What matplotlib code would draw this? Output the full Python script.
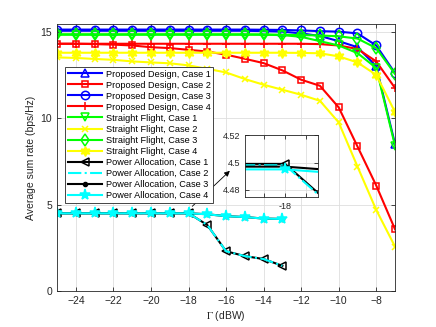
#!/usr/bin/env python3
# coding: utf-8

import matplotlib
matplotlib.use('Agg')
import matplotlib.pyplot as plt

# x axis, Gamma in dBW
gamma = list(range(-25, -6))
gamma_pa = list(range(-25, -12))

# proposed design
pd_case1 = [15.05, 15.05, 15.05, 15.05, 15.05, 15.05, 15.05, 15.05, 15.05, 15.05,
            15.05, 15.03, 15.0, 14.9, 14.75, 14.45, 14.1, 13.0, 8.5]
pd_case2 = [14.3, 14.3, 14.28, 14.25, 14.2, 14.1, 14.05, 13.95, 13.85, 13.67,
            13.43, 13.18, 12.76, 12.22, 11.87, 10.62, 8.36, 6.1, 3.57]
pd_case3 = [15.12, 15.12, 15.12, 15.12, 15.12, 15.12, 15.12, 15.12, 15.12, 15.12,
            15.12, 15.11, 15.1, 15.07, 15.03, 15.0, 14.9, 14.2, 12.6]
pd_case4 = [14.3, 14.3, 14.3, 14.3, 14.3, 14.3, 14.3, 14.3, 14.3, 14.3,
            14.3, 14.3, 14.3, 14.3, 14.28, 14.2, 14.0, 13.28, 11.74]

# straight flight
sf_case1 = [14.82, 14.82, 14.82, 14.82, 14.82, 14.82, 14.82, 14.82, 14.82, 14.82,
            14.82, 14.82, 14.8, 14.7, 14.45, 14.2, 13.76, 12.9, 8.4]
sf_case2 = [13.51, 13.48, 13.42, 13.37, 13.28, 13.22, 13.17, 13.05, 12.85, 12.64,
            12.26, 11.93, 11.64, 11.35, 11.0, 9.75, 7.2, 4.69, 2.57]
sf_case3 = [14.85, 14.85, 14.85, 14.85, 14.85, 14.85, 14.85, 14.85, 14.85, 14.85,
            14.85, 14.84, 14.82, 14.8, 14.78, 14.73, 14.6, 14.05, 12.55]
sf_case4 = [13.78, 13.78, 13.78, 13.78, 13.78, 13.78, 13.78, 13.78, 13.78, 13.78,
            13.78, 13.78, 13.78, 13.77, 13.75, 13.57, 13.22, 12.5, 10.35]

# power allocation
pa_case1 = [4.499, 4.499, 4.499, 4.499, 4.499, 4.499, 4.499, 4.499, 3.82, 2.3, 2.02, 1.85, 1.46]
pa_case2 = [4.498, 4.498, 4.498, 4.498, 4.498, 4.498, 4.498, 4.498, 3.82, 2.3, 2.02, 1.85, 1.46]
pa_case3 = [4.497, 4.497, 4.497, 4.497, 4.497, 4.497, 4.497, 4.497, 4.44, 4.33, 4.28, 4.19, 4.17]
pa_case4 = [4.495, 4.495, 4.495, 4.495, 4.495, 4.495, 4.495, 4.495, 4.438, 4.328, 4.278, 4.188, 4.168]

labels = ['Proposed Design, Case 1', 'Proposed Design, Case 2',
          'Proposed Design, Case 3', 'Proposed Design, Case 4',
          'Straight Flight, Case 1', 'Straight Flight, Case 2',
          'Straight Flight, Case 3', 'Straight Flight, Case 4',
          'Power Allocation, Case 1', 'Power Allocation, Case 2',
          'Power Allocation, Case 3', 'Power Allocation, Case 4']

plt.rcParams['font.family'] = ['Liberation Sans', 'DejaVu Sans']
plt.rcParams['mathtext.fontset'] = 'stix'

AXC = '0.15'
BLUE, RED, GREEN, YELLOW, CYAN, BLACK = '#0000ff', '#ff0000', '#00ff00', '#ffff00', '#00ffff', '#000000'


def draw_curves(ax):
    lw = 1.5
    ms = 6
    mew = 1.1
    ax.plot(gamma, pd_case1, '-', marker='^', color=BLUE, lw=lw, ms=ms, mew=mew, mfc='none', label=labels[0])
    ax.plot(gamma, pd_case2, '-', marker='s', color=RED, lw=lw, ms=ms - 1, mew=mew, mfc='none', label=labels[1])
    ax.plot(gamma, pd_case3, '-', marker='o', color=BLUE, lw=lw, ms=ms, mew=mew, mfc='none', label=labels[2])
    ax.plot(gamma, pd_case4, '-', marker='+', color=RED, lw=lw, ms=ms, mew=mew, label=labels[3])
    ax.plot(gamma, sf_case1, '-', marker='v', color=GREEN, lw=lw, ms=ms, mew=mew, mfc='none', label=labels[4])
    ax.plot(gamma, sf_case2, '-', marker='x', color=YELLOW, lw=lw, ms=ms - 1, mew=mew, label=labels[5])
    ax.plot(gamma, sf_case3, '-', marker='d', color=GREEN, lw=lw, ms=ms, mew=mew, mfc='none', label=labels[6])
    ax.plot(gamma, sf_case4, '-', marker=(6, 1, 0), color=YELLOW, lw=lw, ms=ms + 1, mew=mew, label=labels[7])
    ax.plot(gamma_pa, pa_case1, '-', marker='<', color=BLACK, lw=lw, ms=ms, mew=mew, mfc='none', label=labels[8])
    ax.plot(gamma_pa, pa_case2, '-.', color=CYAN, lw=lw, label=labels[9])
    ax.plot(gamma_pa, pa_case3, '-', marker='.', color=BLACK, lw=lw, ms=ms, label=labels[10])
    ax.plot(gamma_pa, pa_case4, '-', marker='*', color=CYAN, lw=lw, ms=ms + 2, mew=mew, label=labels[11])


def style_axes(ax, fs):
    for sp in ax.spines.values():
        sp.set_color(AXC)
        sp.set_linewidth(0.6)
    ax.tick_params(direction='in', top=True, right=True, colors=AXC,
                   labelcolor=AXC, labelsize=fs, length=3, width=0.6)
    ax.grid(True, color='0.87', lw=0.6)
    ax.set_axisbelow(True)


def main():
    fig = plt.figure(figsize=(4.36, 3.27), dpi=100)
    ax = fig.add_axes([0.131, 0.110, 0.775, 0.817])
    draw_curves(ax)
    style_axes(ax, 7.5)
    ax.set_xlim(-25, -7)
    ax.set_ylim(0, 15.45)
    ax.set_xticks(range(-24, -7, 2))
    ax.set_yticks([0, 5, 10, 15])
    ax.set_xlabel(r'$\Gamma$ (dBW)', fontsize=7.5, color=AXC, labelpad=2)
    ax.set_ylabel('Average sum rate (bps/Hz)', fontsize=7.5, color=AXC, labelpad=3)

    leg = ax.legend(loc='upper left', bbox_to_anchor=(0.023, 0.839), borderaxespad=0,
                    fontsize=6.6, handlelength=3.8, labelspacing=0.22, borderpad=0.3,
                    handletextpad=0.35, fancybox=False, framealpha=1)
    leg.get_frame().set_edgecolor(AXC)
    leg.get_frame().set_linewidth(0.6)

    ax.annotate('', xy=(-15.8, 6.95), xytext=(-17.8, 4.9),
                arrowprops=dict(arrowstyle='-|>', lw=0.6, color='k',
                                mutation_scale=8, shrinkA=0, shrinkB=0))

    # zoomed inset around Gamma = -18
    axin = fig.add_axes([0.562, 0.398, 0.167, 0.189])
    draw_curves(axin)
    style_axes(axin, 6.5)
    axin.set_xlim(-18.038, -17.969)
    axin.set_ylim(4.475, 4.52)
    axin.set_xticks([-18.02, -18.0, -17.98])
    axin.set_xticklabels(['', '-18', ''])
    axin.set_yticks([4.48, 4.5, 4.52])
    axin.set_yticklabels(['4.48', '4.5', '4.52'])

    fig.savefig('out.png', dpi=100)


if __name__ == '__main__':
    main()
